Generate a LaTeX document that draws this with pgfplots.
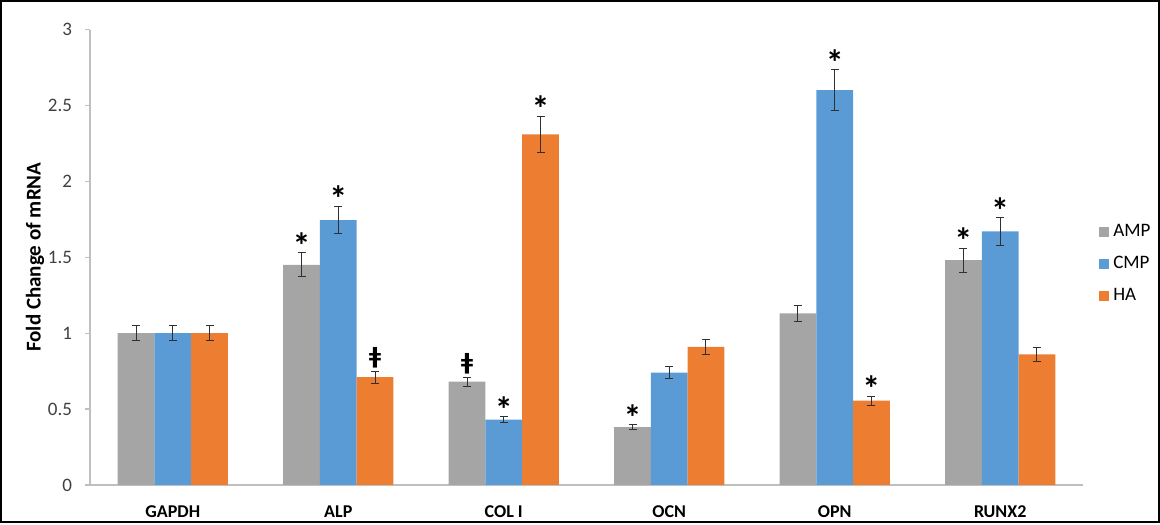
\documentclass[border=0pt]{standalone}
\usepackage{fontspec}
\setmainfont{Carlito}
\newfontfamily\djv{DejaVu Sans}
\usepackage{pgfplots}
\usepackage{pgfplotstable}
\pgfplotsset{compat=1.18}

\definecolor{ampgray}{HTML}{A5A5A5}
\definecolor{cmpblue}{HTML}{5B9BD5}
\definecolor{haorange}{HTML}{ED7D31}
\definecolor{axisgray}{HTML}{BFBFBF}
\definecolor{labelgray}{HTML}{404040}
\definecolor{errcol}{HTML}{303030}

% significance markers: s = asterisk, d = double-bar sign, n = none
\newcommand\st{\fontsize{18}{18}\bfseries\selectfont *}
\newcommand\dd{\raisebox{6.5pt}{\djv\fontsize{11}{11}\bfseries\selectfont ǂ}}
\def\metaS{s}\def\metaD{d}
\newcommand\annot{%
  \edef\tmpmeta{\pgfplotspointmeta}%
  \ifx\tmpmeta\metaS\st\else\ifx\tmpmeta\metaD\dd\fi\fi}

% x: gene index, y: fold change, e: error, m: marker
\pgfplotstableread{
x y e m
0 1.00 0.05 n
1 1.45 0.08 s
2 0.68 0.03 d
3 0.38 0.015 s
4 1.13 0.055 n
5 1.48 0.08 s
}\amp
\pgfplotstableread{
x y e m
0 1.00 0.05 n
1 1.745 0.09 s
2 0.43 0.02 s
3 0.74 0.04 n
4 2.60 0.135 s
5 1.67 0.09 s
}\cmp
\pgfplotstableread{
x y e m
0 1.00 0.05 n
1 0.71 0.04 d
2 2.31 0.12 s
3 0.91 0.05 n
4 0.555 0.03 s
5 0.86 0.045 n
}\ha

\begin{document}
\begin{tikzpicture}
\begin{axis}[
  scale only axis,
  width=496pt, height=227.5pt,
  xmin=-0.5, xmax=5.5,
  ymin=0, ymax=3,
  ytick={0,0.5,...,3},
  axis x line*=bottom, axis y line*=left,
  axis line style={draw=axisgray, line width=0.6pt, -},
  xtick={0,...,5},
  xticklabels={GAPDH,ALP,COL I,OCN,OPN,RUNX2},
  xtick style={draw=none},
  extra x ticks={-0.5,0.5,1.5,2.5,3.5,4.5,5.5},
  extra x tick labels={},
  extra x tick style={tick style={draw=axisgray, line width=0.6pt}, tick align=outside, major tick length=2.5pt, grid=none},
  ytick style={draw=axisgray, line width=0.6pt},
  tick align=outside, major tick length=2.5pt,
  /pgf/number format/assume math mode=true,
  yticklabel style={font=\fontsize{9.5}{11}\selectfont, text=labelgray, xshift=-3pt},
  xticklabel style={font=\fontsize{9}{10}\bfseries\selectfont, text=black, yshift=-4.5pt},
  ylabel={Fold Change of mRNA},
  ylabel style={font=\fontsize{10.5}{12}\bfseries\selectfont, yshift=-5pt},
  ybar, bar width=0.222,
  legend style={draw=none, at={(1.016,0.485)}, anchor=west,
    font=\fontsize{9.5}{11}\selectfont, row sep=4.5pt, inner sep=0pt},
  legend cell align=left,
  legend image code/.code={\fill[#1] (0pt,-2.5pt) rectangle (5pt,2.5pt);},
  point meta=explicit symbolic,
  nodes near coords={\annot},
  visualization depends on={\thisrow{e} \as \errv},
  every node near coord/.append style={anchor=base, shift={(axis direction cs:0,\errv)}, yshift=-2.75pt, inner sep=0pt},
  error bars/y dir=both, error bars/y explicit,
  error bars/error bar style={draw=errcol, line width=0.5pt},
  error bars/error mark options={draw=errcol, rotate=90, mark size=2pt, line width=0.5pt},
]
\addplot[fill=ampgray, draw=none, bar shift=-0.222]
  table[x=x, y=y, y error=e, meta=m] {\amp};
\addplot[fill=cmpblue, draw=none, bar shift=0]
  table[x=x, y=y, y error=e, meta=m] {\cmp};
\addplot[fill=haorange, draw=none, bar shift=0.222]
  table[x=x, y=y, y error=e, meta=m] {\ha};
\legend{AMP,CMP,HA}
\end{axis}
\draw[line width=1pt, black] (-44.5pt,-18.75pt) rectangle (534pt,241.75pt);
\end{tikzpicture}
\end{document}
